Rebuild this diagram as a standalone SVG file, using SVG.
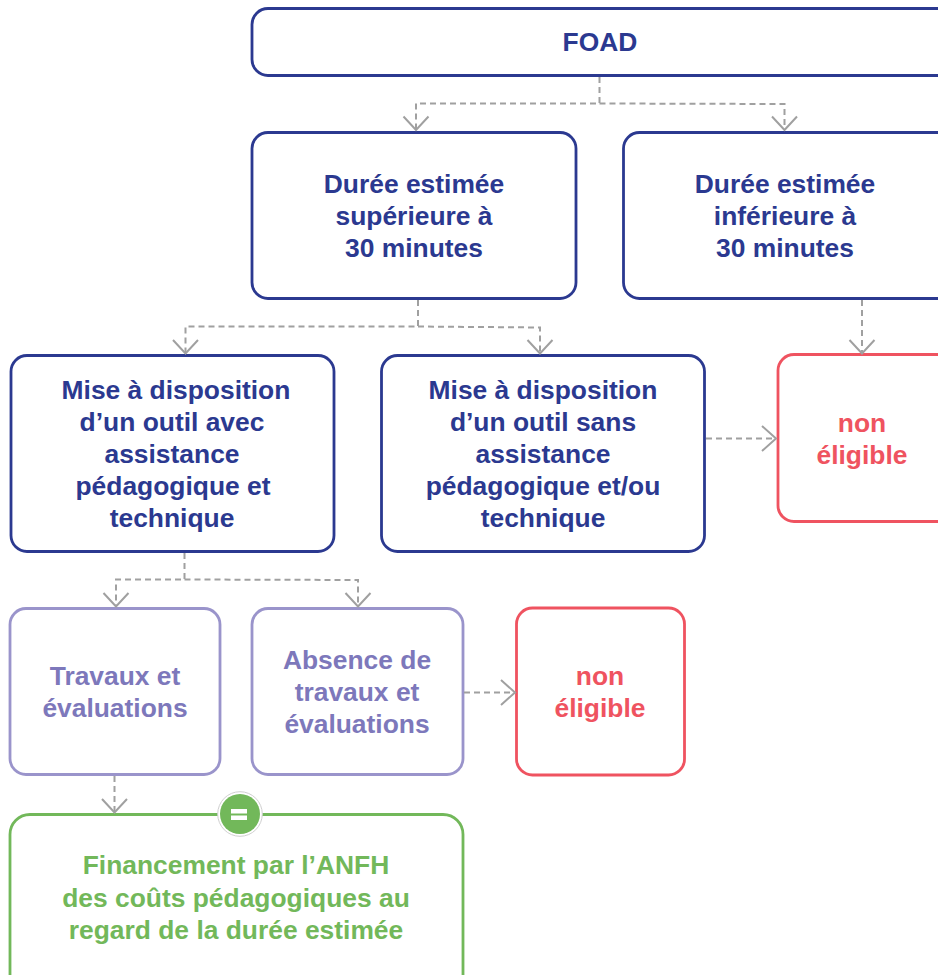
<svg xmlns="http://www.w3.org/2000/svg" width="938" height="975" viewBox="0 0 938 975">
<style>
.box{fill:#fff;stroke-width:2.8}
.t{font-family:"Liberation Sans",Arial,sans-serif;font-weight:700;font-size:26.4px;text-anchor:middle}
.navy rect{stroke:#2b3990}.navy text{fill:#2b3990}
.lil rect{stroke:#9a94cb}.lil text{fill:#7d78bb}
.red rect{stroke:#ef5360}.red text{fill:#ef5360}
.grn rect{stroke:#72b85a}.grn text{fill:#72b85a}
.d{fill:none;stroke:#a0a0a0;stroke-width:2;stroke-dasharray:6 4}
.a{fill:none;stroke:#a0a0a0;stroke-width:2}
</style>
<rect width="938" height="975" fill="#fff"/>
<g id="n-foad" class="navy"><rect class="box" x="252" y="8.500" width="710" height="67" rx="16"/><text class="t" x="600" y="51">FOAD</text></g>
<g id="n-sup" class="navy"><rect class="box" x="252" y="132.500" width="324" height="166" rx="16"/><text class="t" x="414" y="193">Durée estimée</text><text class="t" x="414" y="225">supérieure à</text><text class="t" x="414" y="257">30 minutes</text></g>
<g id="n-inf" class="navy"><rect class="box" x="623.500" y="132.500" width="340" height="166" rx="16"/><text class="t" x="785" y="193">Durée estimée</text><text class="t" x="785" y="225">inférieure à</text><text class="t" x="785" y="257">30 minutes</text></g>
<g id="n-avec" class="navy"><rect class="box" x="11" y="355.500" width="323" height="196" rx="16"/><text class="t" x="176" y="399">Mise à disposition</text><text class="t" x="172" y="431">d’un outil avec</text><text class="t" x="172" y="463">assistance</text><text class="t" x="173" y="495">pédagogique et</text><text class="t" x="172" y="527">technique</text></g>
<g id="n-sans" class="navy"><rect class="box" x="381.500" y="355.500" width="323" height="196" rx="16"/><text class="t" x="543" y="399">Mise à disposition</text><text class="t" x="543" y="431">d’un outil sans</text><text class="t" x="543" y="463">assistance</text><text class="t" x="543" y="495">pédagogique et/ou</text><text class="t" x="543" y="527">technique</text></g>
<g id="n-non1" class="red"><rect class="box" x="778" y="354.500" width="180" height="167" rx="16"/><text class="t" x="862" y="432">non</text><text class="t" x="862" y="464">éligible</text></g>
<g id="n-trav" class="lil"><rect class="box" x="10" y="608.500" width="210" height="166" rx="16"/><text class="t" x="115" y="685">Travaux et</text><text class="t" x="115" y="717">évaluations</text></g>
<g id="n-abs" class="lil"><rect class="box" x="252" y="608.500" width="211" height="166" rx="16"/><text class="t" x="357" y="669">Absence de</text><text class="t" x="357" y="701">travaux et</text><text class="t" x="357" y="733">évaluations</text></g>
<g id="n-non2" class="red"><rect class="box" x="516.500" y="608" width="168" height="167" rx="16"/><text class="t" x="600" y="685">non</text><text class="t" x="600" y="717">éligible</text></g>
<g id="n-fin" class="grn"><rect class="box" x="10" y="814.500" width="453" height="190" rx="20"/><text class="t" x="236" y="874">Financement par l’ANFH</text><text class="t" x="236" y="907">des coûts pédagogiques au</text><text class="t" x="236" y="939">regard de la durée estimée</text></g>
<g id="connectors">
<path class="d" d="M599.500 77V103.500H416V129"/><path class="d" d="M599.500 103.500L784.500 104V129"/>
<path class="a" d="M403.500 116.500L416 130L428.500 116.500M772 116.500L784.500 130L797 116.500"/>
<path class="d" d="M418 300V326.500H185.500V353"/><path class="d" d="M418 326.500L540 327.500V353"/>
<path class="a" d="M173 340L185.500 353.500L198 340M527.500 340L540 353.500L552.500 340"/>
<path class="d" d="M862 300V353"/><path class="a" d="M849.500 340L862 353.500L874.500 340"/>
<path class="d" d="M706 438.500H776"/><path class="a" d="M762 426L776 438.500L762 451"/>
<path class="d" d="M184.500 553V579.500H116V606"/><path class="d" d="M184.500 579.500L358 580V606"/>
<path class="a" d="M103.500 593L116 606.500L128.500 593M345.500 593L358 606.500L370.500 593"/>
<path class="d" d="M464 692.500H515"/><path class="a" d="M501 680L515 692.500L501 705"/>
<path class="d" d="M114.500 776V812"/><path class="a" d="M102 799L114.500 812.500L127 799"/>
</g>
<g id="n-eq"><circle cx="240" cy="814" r="22.300" fill="#fff" stroke="#d0d0d0" stroke-width="1"/><circle cx="240" cy="814" r="20" fill="#72b85a"/><path d="M231 809h16v4.500h-16zM231 815.500h16v4.500h-16z" fill="#fff"/></g>
</svg>
